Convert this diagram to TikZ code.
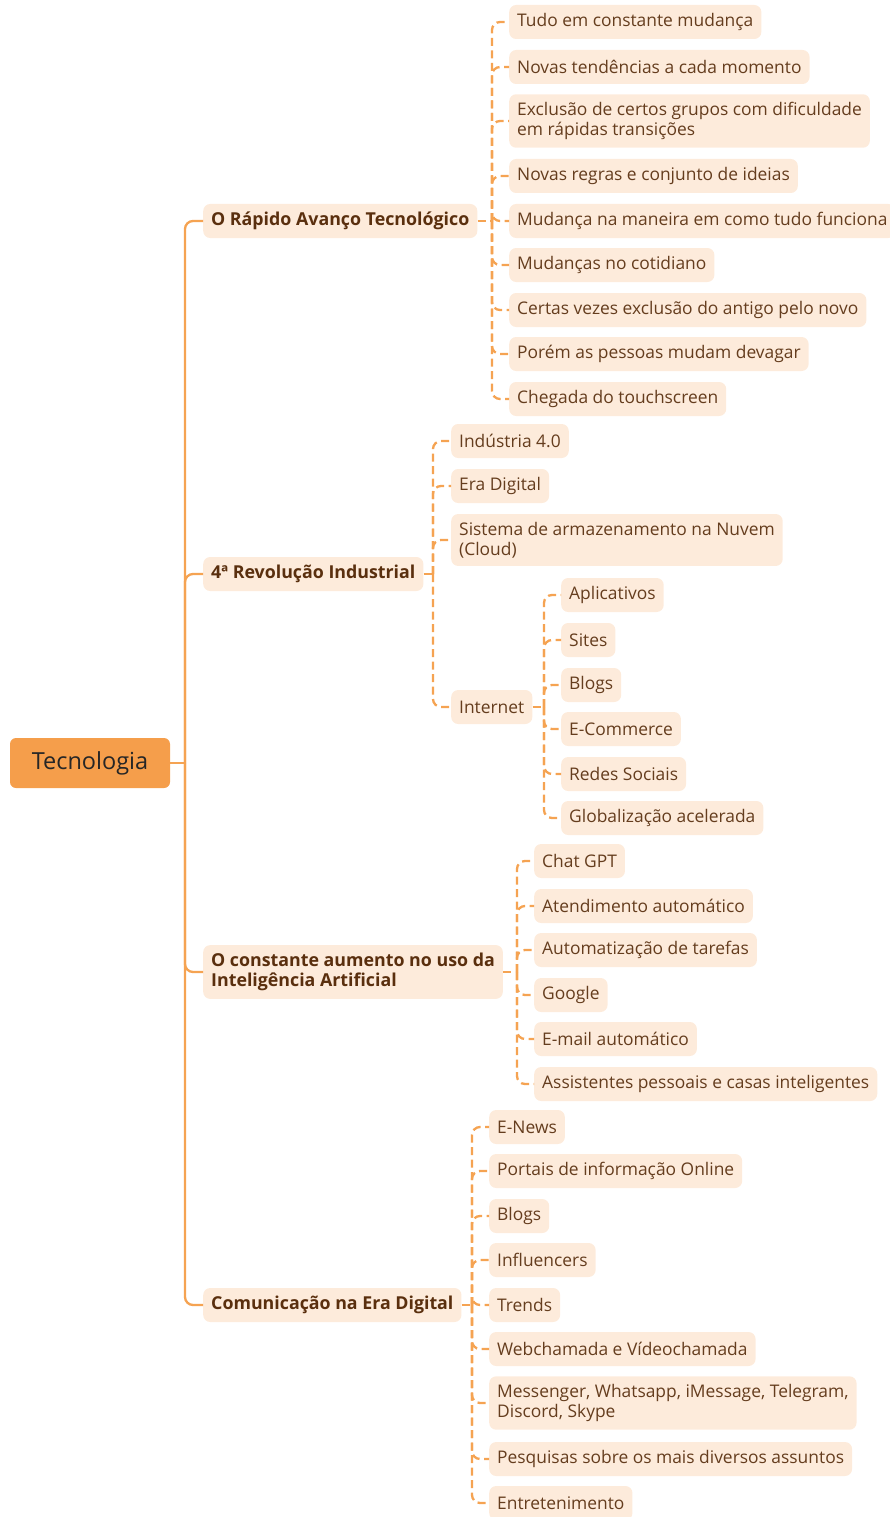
\documentclass[tikz,border=0pt]{standalone}
\usepackage{fontspec}
\setmainfont{Open Sans}
\definecolor{rootfill}{HTML}{F59E4B}
\definecolor{boxfill}{HTML}{FDEBDB}
\definecolor{leaftext}{HTML}{653D1E}
\definecolor{topictext}{HTML}{5A2F0E}
\definecolor{linecol}{HTML}{F5A352}
\begin{document}
\begin{tikzpicture}[x=1pt,y=-1pt,
  rootbox/.style={fill=rootfill, text=black!85, rounded corners=6pt, minimum width=160pt, minimum height=50pt, font=\fontsize{23.5}{26}\selectfont},
  leaf/.style={fill=boxfill, text=leaftext, rounded corners=7pt, anchor=west, inner xsep=8pt, inner ysep=8pt, minimum height=34pt, align=left, font=\fontsize{17.4}{20}\selectfont},
  topic/.style={leaf, text=topictext, font=\fontsize{17.8}{20}\selectfont\bfseries},
  trunk/.style={draw=linecol, line width=2.3pt},
  trunkbend/.style={trunk, rounded corners=8pt},
  twig/.style={draw=linecol, line width=2.3pt, dash pattern=on 8pt off 4.5pt},
  twigbend/.style={twig, rounded corners=8pt}]
\useasboundingbox (0,0) rectangle (890,1517);

% root and main topics
\node[rootbox] (root) at (90,763) {Tecnologia};
\node[topic] (t1) at (203,221) {O Rápido Avanço Tecnológico};
\node[topic] (t2) at (203,574) {4ª Revolução Industrial};
\node[topic] (t3) at (203,972) {O constante aumento no uso da\\Inteligência Artificial};
\node[topic] (t4) at (203,1305) {Comunicação na Era Digital};

\coordinate (rj) at (185,763);
\draw[trunk] (root.east) -- (rj);
\foreach \tp in {t1,t2,t3,t4} \draw[trunkbend] (rj) |- (\tp.west);

% branch 1
\node[leaf] (a1) at (509,22) {Tudo em constante mudança};
\node[leaf] (a2) at (509,67) {Novas tendências a cada momento};
\node[leaf] (a3) at (509,121) {Exclusão de certos grupos com dificuldade\\em rápidas transições};
\node[leaf] (a4) at (509,176) {Novas regras e conjunto de ideias};
\node[leaf] (a5) at (509,221) {Mudança na maneira em como tudo funciona};
\node[leaf] (a6) at (509,265) {Mudanças no cotidiano};
\node[leaf] (a7) at (509,310) {Certas vezes exclusão do antigo pelo novo};
\node[leaf] (a8) at (509,354) {Porém as pessoas mudam devagar};
\node[leaf] (a9) at (509,399) {Chegada do touchscreen};
\coordinate (j1) at (492,221);
\draw[twig] (t1.east) -- (j1);
\foreach \cn in {a1,a2,a3,a4,a5,a6,a7,a8,a9} \draw[twigbend] (j1) |- (\cn.west);

% branch 2
\node[leaf] (b1) at (451,441) {Indústria 4.0};
\node[leaf] (b2) at (451,486) {Era Digital};
\node[leaf] (b3) at (451,540) {Sistema de armazenamento na Nuvem\\(Cloud)};
\node[leaf] (b4) at (451,707) {Internet};
\coordinate (j2) at (433,574);
\draw[twig] (t2.east) -- (j2);
\foreach \cn in {b1,b2,b3,b4} \draw[twigbend] (j2) |- (\cn.west);

% internet
\node[leaf] (i1) at (561,595) {Aplicativos};
\node[leaf] (i2) at (561,640) {Sites};
\node[leaf] (i3) at (561,685) {Blogs};
\node[leaf] (i4) at (561,729) {E-Commerce};
\node[leaf] (i5) at (561,774) {Redes Sociais};
\node[leaf] (i6) at (561,818) {Globalização acelerada};
\coordinate (ji) at (544,707);
\draw[twig] (b4.east) -- (ji);
\foreach \cn in {i1,i2,i3,i4,i5,i6} \draw[twigbend] (ji) |- (\cn.west);

% branch 3
\node[leaf] (c1) at (534,861) {Chat GPT};
\node[leaf] (c2) at (534,906) {Atendimento automático};
\node[leaf] (c3) at (534,950) {Automatização de tarefas};
\node[leaf] (c4) at (534,995) {Google};
\node[leaf] (c5) at (534,1039) {E-mail automático};
\node[leaf] (c6) at (534,1084) {Assistentes pessoais e casas inteligentes};
\coordinate (j3) at (517,972);
\draw[twig] (t3.east) -- (j3);
\foreach \cn in {c1,c2,c3,c4,c5,c6} \draw[twigbend] (j3) |- (\cn.west);

% branch 4
\node[leaf] (d1) at (489,1127) {E-News};
\node[leaf] (d2) at (489,1171) {Portais de informação Online};
\node[leaf] (d3) at (489,1216) {Blogs};
\node[leaf] (d4) at (489,1260) {Influencers};
\node[leaf] (d5) at (489,1305) {Trends};
\node[leaf] (d6) at (489,1349) {Webchamada e Vídeochamada};
\node[leaf] (d7) at (489,1403) {Messenger, Whatsapp, iMessage, Telegram,\\Discord, Skype};
\node[leaf] (d8) at (489,1459) {Pesquisas sobre os mais diversos assuntos};
\node[leaf] (d9) at (489,1503) {Entretenimento};
\coordinate (j4) at (472,1305);
\draw[twig] (t4.east) -- (j4);
\foreach \cn in {d1,d2,d3,d4,d5,d6,d7,d8,d9} \draw[twigbend] (j4) |- (\cn.west);
\end{tikzpicture}
\end{document}
